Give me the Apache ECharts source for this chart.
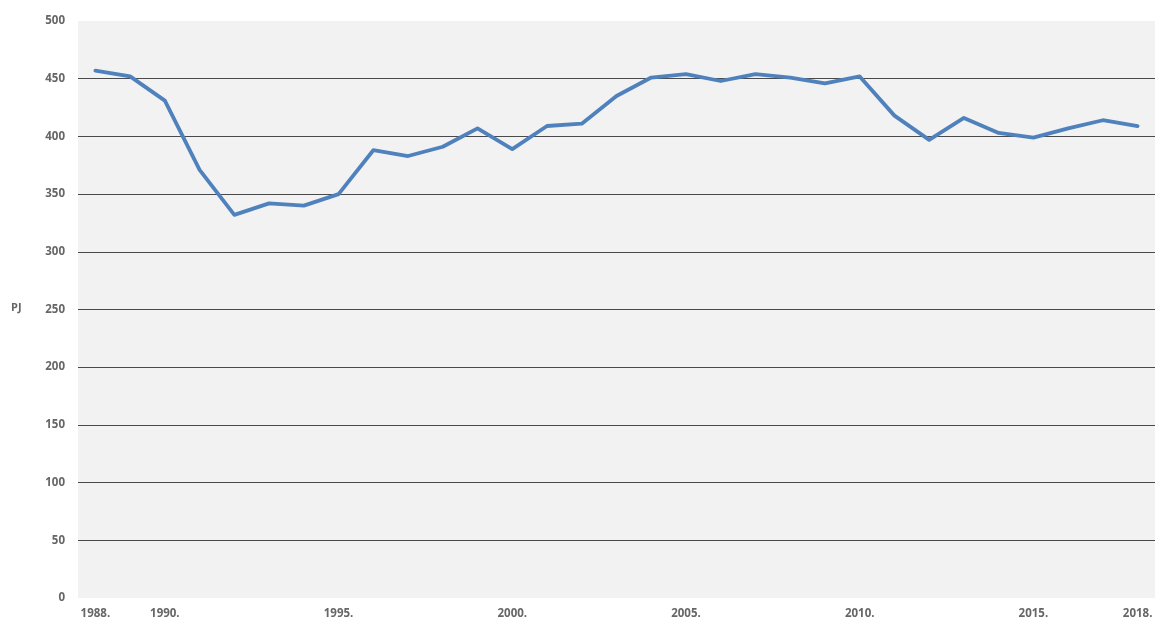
<!DOCTYPE html>
<html><head><meta charset="utf-8">
<script src="https://cdn.jsdelivr.net/npm/echarts@6/dist/echarts.min.js"></script>
<style>html,body{margin:0;padding:0;background:#fff}#c{width:1157px;height:623px}</style>
</head><body><div id="c"></div>
<script>
const years = ['1988.','1989.','1990.','1991.','1992.','1993.','1994.','1995.','1996.','1997.','1998.','1999.','2000.','2001.','2002.','2003.','2004.','2005.','2006.','2007.','2008.','2009.','2010.','2011.','2012.','2013.','2014.','2015.','2016.','2017.','2018.'];
const values = [457,452,431,371,332,342,340,350,388,383,391,407,389,409,411,435,451,454,448,454,451,446,452,418,397,416,403,399,407,414,409];
const shownLabels = ['1988.','1990.','1995.','2000.','2005.','2010.','2015.','2018.'];
const yTicks = [0,50,100,150,200,250,300,350,400,450,500];

const chart = echarts.init(document.getElementById('c'));
chart.setOption({
  animation:false,
  grid:{left:78,right:2,top:21,bottom:25,show:true,backgroundColor:'#f2f2f2',borderWidth:0,containLabel:false},
  graphic:[{type:'text',left:11,top:302,style:{text:'PJ',fill:'#666666',font:'bold 11px "Open Sans", sans-serif'}}],
  xAxis:{type:'category',data:years,boundaryGap:true,
    axisLine:{show:false},axisTick:{show:false},
    axisLabel:{interval:0,margin:10,color:'#666666',fontFamily:'Open Sans',fontSize:11.5,fontWeight:'bold',
      formatter:v=>shownLabels.includes(v)?v:''}},
  yAxis:{type:'value',min:0,max:500,interval:50,
    axisLine:{show:false},axisTick:{show:false},
    axisLabel:{margin:13,color:'#666666',fontFamily:'Open Sans',fontSize:11.5,fontWeight:'bold',
      formatter:v=>yTicks.includes(v)?String(v):''},
    splitLine:{show:true,showMinLine:false,showMaxLine:false,lineStyle:{color:'#4a4a4a',width:1.2}}},
  series:[{type:'line',data:values,symbol:'none',smooth:false,
    lineStyle:{color:'#4f81bd',width:3.8,cap:'round',join:'round'}}]
});
</script></body></html>
